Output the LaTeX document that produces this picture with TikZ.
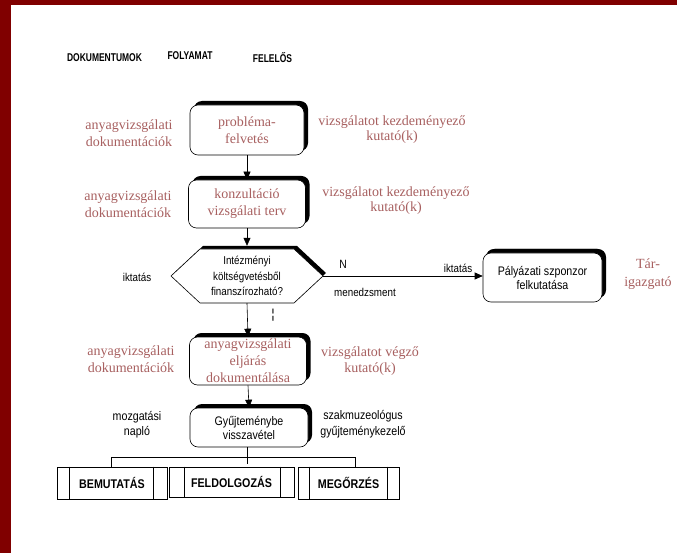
\documentclass[tikz,border=0pt]{standalone}
\usepackage{fontspec}
\setmainfont{Liberation Serif}
\setsansfont{Liberation Sans}
\newfontfamily\hdfont[FakeStretch=0.75]{Liberation Sans}
\newfontfamily\bxfont[FakeStretch=0.85]{Liberation Sans}
\newfontfamily\nsans[FakeStretch=0.86]{Liberation Sans}
\usetikzlibrary{arrows.meta,shadows,calc}
\definecolor{framered}{RGB}{128,0,0}
\definecolor{rosy}{RGB}{168,96,96}
\begin{document}
\begin{tikzpicture}[x=1pt,y=-1pt,
  proc/.style={draw, rounded corners=8pt, fill=white, line width=0.6pt, align=center, inner sep=1pt,
    drop shadow={shadow xshift=4pt, shadow yshift=4pt, opacity=1, fill=black}},
  ser/.style={font=\fontsize{14}{17}\selectfont, text=rosy, align=center, inner sep=0pt},
  sans/.style={font=\nsans\fontsize{12}{15}\selectfont, align=center, inner sep=0pt},
  hd/.style={font=\hdfont\bfseries\fontsize{11.3}{12}\selectfont, inner sep=0pt},
  outbox/.style={draw, line width=0.6pt, minimum height=32pt, inner sep=0pt,
    font=\bxfont\bfseries\fontsize{12.6}{14}\selectfont},
  arr/.style={-{Triangle[length=8pt,width=7pt]}, line width=0.6pt},
  ln/.style={line width=0.6pt}]
\useasboundingbox (0,0) rectangle (677,553);
\fill[white] (0,0) rectangle (677,553);
\fill[framered] (0,0) rectangle (11,553);
\fill[framered] (0,0) rectangle (677,5);

% headers
\node[hd] (h1) at (104.5,58) {DOKUMENTUMOK};
\node[hd] (h2) at (190,56) {FOLYAMAT};
\node[hd] (h3) at (272.5,57.5) {FELELŐS};

% process boxes
\node[proc, ser, minimum width=114pt, minimum height=50pt] (b1) at (247,130) {probléma-\\felvetés};
\node[proc, ser, minimum width=117pt, minimum height=48pt] (b2) at (247,204) {konzultáció\\vizsgálati terv};
\node[proc, ser, minimum width=117pt, minimum height=48pt] (b4) at (248,361) {anyagvizsgálati\\eljárás\\dokumentálása};
\node[proc, sans, font=\nsans\fontsize{12.4}{14}\selectfont, minimum width=118pt, minimum height=39pt] (b5) at (249,427.5) {Gyűjteménybe\\visszavétel};
\node[proc, sans, font=\nsans\fontsize{12.4}{14}\selectfont, minimum width=119pt, minimum height=49pt, drop shadow={shadow xshift=3pt, shadow yshift=4pt, opacity=1, fill=black}] (pal) at (542.5,277.5) {Pályázati szponzor\\felkutatása};

% decision hexagon
\coordinate (decc) at (247,276);
\begin{scope}[shift={(decc)}]
  \fill[black] (-73,-3) -- (-44,-30) -- (50,-30) -- (79,-3) -- (50,24) -- (-44,24) -- cycle;
  \filldraw[fill=white, line width=0.6pt] (-76,0) -- (-47,-27) -- (47,-27) -- (76,0) -- (47,27) -- (-47,27) -- cycle;
\end{scope}
\node[sans, font=\nsans\fontsize{11.4}{15.5}\selectfont, minimum width=152pt, minimum height=54pt] (dec) at (decc) {Intézményi\\költségvetésből\\finanszírozható?};

% left labels
\node[ser] (l1) at (129,133.5) {anyagvizsgálati\\dokumentációk};
\node[ser] (l2) at (128,204.5) {anyagvizsgálati\\dokumentációk};
\node[sans, font=\nsans\fontsize{11.4}{12}\selectfont] (l3) at (137,277) {iktatás};
\node[ser] (l4) at (131,359.5) {anyagvizsgálati\\dokumentációk};
\node[sans, font=\nsans\fontsize{12.4}{15}\selectfont] (l5) at (137,424.5) {mozgatási\\napló};

% right labels
\node[ser, font=\fontsize{14}{15}\selectfont] (r1) at (392,129.5) {vizsgálatot kezdeményező\\kutató(k)};
\node[ser, font=\fontsize{14}{15}\selectfont] (r2) at (396,200.5) {vizsgálatot kezdeményező\\kutató(k)};
\node[ser, font=\fontsize{14}{16}\selectfont] (r4) at (370,361) {vizsgálatot végző\\kutató(k)};
\node[sans, font=\nsans\fontsize{12.4}{16}\selectfont] (r5) at (363,424) {szakmuzeológus\\gyűjteménykezelő};
\node[ser, font=\fontsize{14}{18}\selectfont] (r6) at (648,274) {Tár-\\igazgató};

% decision labels
\node[sans, font=\nsans\fontsize{12}{12}\selectfont] (nno) at (343,264) {N};
\node[sans, font=\nsans\fontsize{11.4}{12}\selectfont] (ikt) at (458,268) {iktatás};
\node[sans, font=\nsans\fontsize{11.4}{12}\selectfont] (men) at (365,292) {menedzsment};
\node[sans, font=\sffamily\fontsize{13}{14}\selectfont] (igen) at (273,315) {¦};

% output boxes
\node[outbox, minimum width=110pt] (ba) at (112,483) {BEMUTATÁS};
\node[outbox, minimum width=125pt, minimum height=30pt] (bb) at (231.5,482) {FELDOLGOZÁS};
\node[outbox, minimum width=101pt] (bc) at (348.5,483) {MEGŐRZÉS};
\foreach \b/\l/\r in {ba/13/14, bb/16/14, bc/12/12} {
  \draw[ln] ([xshift=\l pt]\b.north west) -- ([xshift=\l pt]\b.south west);
  \draw[ln] ([xshift=-\r pt]\b.north east) -- ([xshift=-\r pt]\b.south east);
}

% connectors
\draw[arr] (b1.south) -- (b2.north);
\draw[arr] (b2.south) -- ([yshift=3pt]dec.north);
\draw[arr] (dec.east) -- (dec.east -| pal.west);
\draw[arr] (dec.south) -- (b4.north);
\draw[arr] (b4.south) -- (b5.north);
\coordinate (jl) at (111,457);
\coordinate (jr) at (355,457);
\coordinate (jm) at (247,464);
\draw[ln] (b5.south -| jm) -- (jm);
\draw[ln] (jl) -- (jr);
\draw[ln] (jl) -- (jl |- ba.north);
\draw[ln] (jr) -- (jr |- bc.north);
\end{tikzpicture}
\end{document}
